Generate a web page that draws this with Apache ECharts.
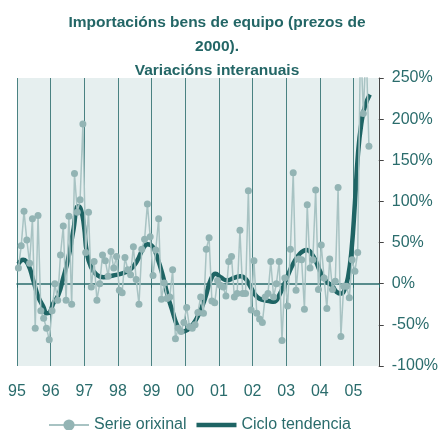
<!DOCTYPE html>
<html>
<head>
<meta charset="utf-8">
<script src="https://cdn.jsdelivr.net/npm/echarts@6/dist/echarts.min.js"></script>
<style>
  html, body { margin: 0; padding: 0; background: #fff; }
  #chart { width: 441px; height: 430px; }
</style>
</head>
<body>
<div id="chart"></div>
<script>
// eixe x en meses dende xaneiro 1995
var yearLabels = ['95', '96', '97', '98', '99', '00', '01', '02', '03', '04', '05'];

// serie orixinal, un valor por mes (xan 1995 - xuñ 2005)
var orixinal = [
  19, 46, 88, 53, 25, 79, -54, 83, -33, -42, -54, -68,
  -33, 0, -20, 35, 70, -20, 82, -25, 134, 87, 102, 194,
  38, 87, -4, 27, -20, 0, 35, 28, 9, 39, 19, 33,
  -8, -11, 32, 17, 11, 45, 5, -25, 42, 54, 97, 57,
  10, 41, 79, -19, 1, -18, -16, 17, -67, -54, -58, -47,
  -29, -52, -54, -50, -35, -16, -36, 42, 56, -21, -23, 4,
  -2, -4, -15, 27, 33, -16, -12, 65, -12, -12, 113, -32,
  28, -36, -43, -47, -16, -12, 27, -16, 0, 27, -69, 7,
  -27, 42, 135, -8, 30, 29, -31, 96, 19, 29, 114, -7,
  47, 7, -30, 30, -7, 3, 117, -64, -3, -3, -17, 29,
  15, 38, 300, 207, 290, 167
];

// ciclo tendencia: posición (meses) e valor
var trendMonths = [0.5, 2.2, 4.0, 5.8, 7.6, 9.4, 10.6, 11.8, 12.9, 14.7, 16.5, 18.3, 20.1, 21.8,
  22.8, 23.9, 24.9, 26.3, 28.4, 30.8, 34.3, 37.9, 40.3, 42.7, 45, 46.6, 48.4, 50.1, 51.9,
  53.7, 55.5, 57.3, 59, 60.8, 62.6, 64.4, 66.2, 67.4, 69, 70.8, 72.6, 74.9, 77.3, 79.7,
  81.5, 83.3, 85.6, 88, 89.8, 91.5, 93.8, 96.2, 98.6, 101, 103.3, 105.7, 108.1, 110.5,
  112.3, 114, 115.7, 116.9, 118.1, 119.3, 120.5, 121.6, 122.8, 124, 125.8];
var trendValues = [24, 29, 23, 4, -16, -28, -36, -34, -24, -14, 7, 31, 65, 94,
  90, 70, 38, 21, 11, 8, 10, 13, 17, 27, 43, 48, 45, 31, 11,
  -14, -34, -52, -58, -56, -50, -40, -26, -14, 4, 12, 8, 4, 7, 9,
  6, -4, -16, -20, -21, -22, -12, 7, 25, 37, 41, 33, 15, 2,
  -2, -10, -12, -6, 9, 41, 98, 158, 195, 215, 230];

var font = 'Liberation Sans, Arial, sans-serif';
var teal = '#2a6c6c';

var orixinalData = orixinal.map(function (v, i) { return [i + 0.5, v]; });
var trendData = trendMonths.map(function (m, i) { return [m, trendValues[i]]; });

var chart = echarts.init(document.getElementById('chart'));
chart.setOption({
  animation: false,
  textStyle: { fontFamily: font },
  title: {
    text: 'Importacións bens de equipo (prezos de\n2000).\nVariacións interanuais',
    left: 212,
    top: 6,
    textAlign: 'center',
    textStyle: { color: '#236666', fontSize: 15.5, fontWeight: 'bold', lineHeight: 24, fontFamily: font }
  },
  grid: {
    left: 17, right: 62, top: 78, bottom: 64,
    show: true, backgroundColor: '#e6efef', borderWidth: 0
  },
  legend: {
    data: [
      { name: 'Serie orixinal' },
      { name: 'Ciclo tendencia', icon: 'path://M0,0H40V4.5H0Z' }
    ],
    left: 43, top: 412,
    itemWidth: 40, itemHeight: 14, itemGap: 10,
    textStyle: { color: teal, fontSize: 16, fontFamily: font }
  },
  xAxis: [{
    type: 'value', min: 0, max: 129, interval: 12,
    axisLine: { onZero: true, lineStyle: { color: teal, width: 1.5 } },
    axisTick: { show: true, length: 4, lineStyle: { color: teal } },
    axisLabel: { show: false },
    splitLine: { show: false }
  }, {
    type: 'value', min: 0, max: 129, interval: 12, position: 'bottom',
    axisLine: { show: false, onZero: false },
    axisTick: { show: false },
    axisLabel: {
      margin: 18, color: teal, fontSize: 16, fontFamily: font,
      showMaxLabel: false,
      formatter: function (v) { return yearLabels[Math.round(v / 12)] || ''; }
    },
    splitLine: { show: true, lineStyle: { color: '#4a8282', width: 1 } }
  }],
  yAxis: {
    type: 'value', position: 'right', min: -100, max: 250, interval: 50,
    axisLine: { show: true, onZero: false, lineStyle: { color: '#444', width: 1 } },
    axisTick: { show: true, length: 5, lineStyle: { color: '#444' } },
    axisLabel: {
      margin: 13, color: teal, fontSize: 16, fontFamily: font,
      formatter: '{value}%'
    },
    splitLine: { show: false }
  },
  series: [{
    name: 'Ciclo tendencia',
    type: 'line',
    data: trendData,
    smooth: true,
    symbol: 'none',
    z: 2,
    lineStyle: { color: '#1e6464', width: 4.5 },
    itemStyle: { color: '#1e6464' }
  }, {
    name: 'Serie orixinal',
    type: 'line',
    data: orixinalData,
    symbol: 'circle',
    symbolSize: 7,
    z: 3,
    lineStyle: { color: '#a8c3c3', width: 1.5 },
    itemStyle: { color: '#93b4b4' }
  }]
});
</script>
</body>
</html>
